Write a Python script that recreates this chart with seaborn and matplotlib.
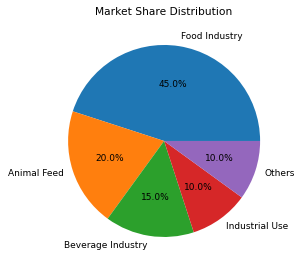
import matplotlib
matplotlib.use("Agg")
import matplotlib.pyplot as plt
import seaborn as sns

# market share data
categories = ["Food Industry", "Animal Feed", "Beverage Industry", "Industrial Use", "Others"]
shares = [45, 20, 15, 10, 10]

colors = sns.color_palette("tab10", len(categories))

fig = plt.figure(figsize=(3.0, 2.67), dpi=100)
ax = fig.add_axes([0.147, 0.0225, 0.8, 0.899])
ax.pie(shares, labels=categories, colors=colors, autopct="%1.1f%%",
       textprops={"fontsize": 6.5})
ax.set_aspect("equal")
ax.set_title("Market Share Distribution", fontsize=7.7, pad=4)
fig.savefig("out.png", dpi=100)
